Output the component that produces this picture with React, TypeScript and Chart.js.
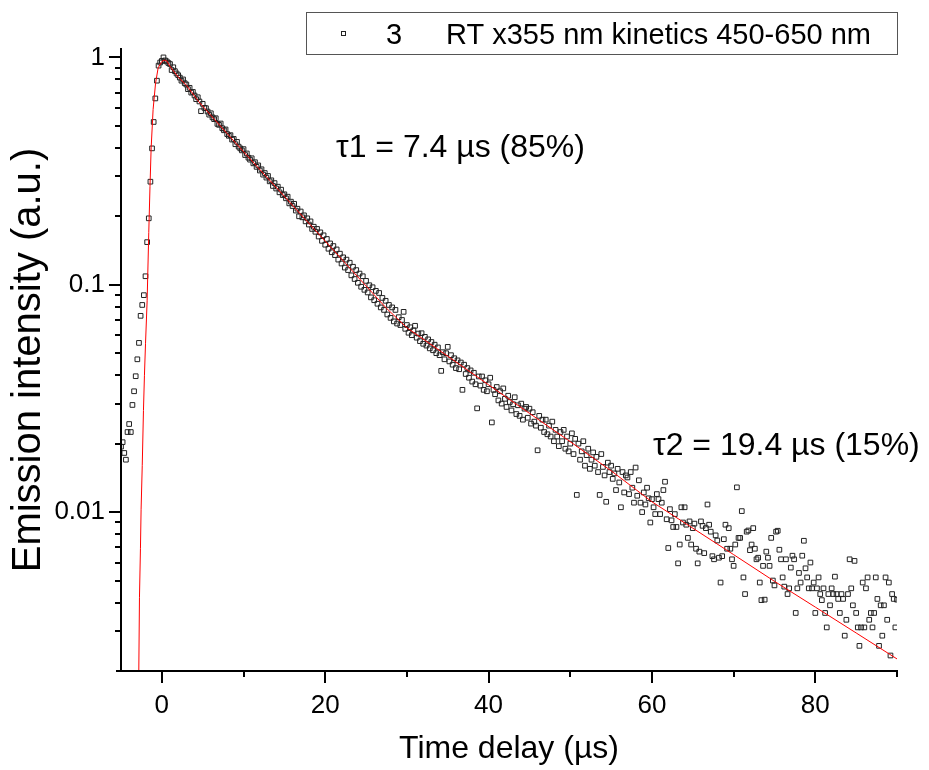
import React, { useEffect, useRef } from "react";
import { Chart, registerables } from "chart.js";

Chart.register(...registerables);

// Measured emission intensity, sampled every 0.2 µs from -5 µs to 90 µs
const TIME_START = -5;
const TIME_STEP = 0.2;
const intensity: number[] = [
  0.0194, 0.0203, 0.0182, 0.0170, 0.0225, 0.0244, 0.0225, 0.0296, 0.0340, 0.0396,
  0.0470, 0.0555, 0.0730, 0.0815, 0.0900, 0.109, 0.154, 0.196, 0.284, 0.398,
  0.520, 0.660, 0.790, 0.920, 0.950, 0.965, 1.000, 0.970, 0.960, 0.945,
  0.935, 0.880, 0.905, 0.870, 0.850, 0.835, 0.815, 0.790, 0.800, 0.770,
  0.760, 0.725, 0.735, 0.700, 0.705, 0.680, 0.655, 0.668, 0.640, 0.580,
  0.625, 0.600, 0.598, 0.578, 0.560, 0.568, 0.545, 0.535, 0.540, 0.510,
  0.505, 0.512, 0.488, 0.478, 0.482, 0.460, 0.452, 0.455, 0.435, 0.438,
  0.415, 0.425, 0.405, 0.398, 0.390, 0.395, 0.372, 0.378, 0.362, 0.355,
  0.360, 0.342, 0.346, 0.330, 0.335, 0.318, 0.322, 0.305, 0.310, 0.296,
  0.301, 0.285, 0.288, 0.272, 0.280, 0.265, 0.270, 0.255, 0.262, 0.248,
  0.250, 0.240, 0.244, 0.228, 0.232, 0.222, 0.227, 0.212, 0.216, 0.200,
  0.210, 0.198, 0.202, 0.190, 0.196, 0.184, 0.190, 0.176, 0.180, 0.171,
  0.176, 0.163, 0.170, 0.156, 0.165, 0.150, 0.159, 0.144, 0.152, 0.139,
  0.148, 0.135, 0.143, 0.129, 0.137, 0.124, 0.132, 0.119, 0.129, 0.116,
  0.125, 0.110, 0.120, 0.106, 0.116, 0.102, 0.112, 0.098, 0.109, 0.095,
  0.104, 0.0925, 0.0995, 0.0880, 0.0975, 0.0855, 0.0940, 0.0825, 0.0920, 0.0795,
  0.0875, 0.0775, 0.0850, 0.0740, 0.0815, 0.0715, 0.0795, 0.0690, 0.0775, 0.0675,
  0.0720, 0.0665, 0.0700, 0.0760, 0.0640, 0.0665, 0.0615, 0.0650, 0.0600, 0.0630,
  0.0660, 0.0585, 0.0610, 0.0565, 0.0612, 0.0550, 0.0590, 0.0540, 0.0575, 0.0525,
  0.0560, 0.0515, 0.0545, 0.0500, 0.0530, 0.0490, 0.0418, 0.0505, 0.0470, 0.0500,
  0.0533, 0.0460, 0.0490, 0.0445, 0.0475, 0.0430, 0.0465, 0.0425, 0.0455, 0.0345,
  0.0445, 0.0405, 0.0430, 0.0390, 0.0420, 0.0375, 0.0410, 0.0365, 0.0286, 0.0395,
  0.0360, 0.0395, 0.0345, 0.0380, 0.0340, 0.0365, 0.0390, 0.0248, 0.0345, 0.0330,
  0.0355, 0.0310, 0.0340, 0.0300, 0.0350, 0.0315, 0.0290, 0.0325, 0.0305, 0.0280,
  0.0298, 0.0320, 0.0270, 0.0295, 0.0265, 0.0300, 0.0255, 0.0285, 0.0290, 0.0260,
  0.0285, 0.0245, 0.0275, 0.0250, 0.0240, 0.0187, 0.0265, 0.0235, 0.0255, 0.0225,
  0.0255, 0.0220, 0.0240, 0.0215, 0.0250, 0.0205, 0.0230, 0.0215, 0.0195, 0.0225,
  0.0205, 0.0230, 0.0190, 0.0215, 0.0185, 0.0200, 0.0222, 0.0180, 0.0210, 0.0119,
  0.0200, 0.0170, 0.0185, 0.0205, 0.0160, 0.0178, 0.0190, 0.0155, 0.0170, 0.0183,
  0.0160, 0.0175, 0.0150, 0.0119, 0.0180, 0.0158, 0.0145, 0.0111, 0.0165, 0.0150,
  0.0160, 0.0140, 0.0148, 0.0125, 0.0155, 0.0135, 0.0105, 0.0150, 0.0122, 0.0145,
  0.0142, 0.0120, 0.0150, 0.0128, 0.0110, 0.0157, 0.0118, 0.0138, 0.0110, 0.0100,
  0.0122, 0.0108, 0.0128, 0.0115, 0.0090, 0.0114, 0.0105, 0.0098, 0.0120, 0.0114,
  0.0098, 0.0110, 0.0125, 0.0136, 0.0093, 0.00695, 0.0103, 0.0092, 0.0086, 0.0098,
  0.0086, 0.00595, 0.0072, 0.0105, 0.0090, 0.0105, 0.0088, 0.0077, 0.0091, 0.0072,
  0.0085, 0.0089, 0.0069, 0.00595, 0.0067, 0.0091, 0.0087, 0.0066, 0.0085, 0.0108,
  0.0088, 0.0082, 0.0064, 0.0062, 0.0079, 0.0075, 0.0063, 0.0049, 0.0064, 0.0076,
  0.0088, 0.0069, 0.0085, 0.0069, 0.0062, 0.0058, 0.0072, 0.01285, 0.0077, 0.0077,
  0.0101, 0.00516, 0.00436, 0.0082, 0.0083, 0.0068, 0.0072, 0.0085, 0.0069, 0.0062,
  0.0063, 0.0049, 0.0041, 0.0058, 0.00412, 0.0067, 0.0063, 0.0058, 0.0077, 0.0050,
  0.00476, 0.0082, 0.00828, 0.00683, 0.0062, 0.00516, 0.0047, 0.0062, 0.00436, 0.00462,
  0.0057, 0.00643, 0.0062, 0.0036, 0.00462, 0.0054, 0.0049, 0.00643, 0.00748, 0.00566,
  0.00516, 0.00462, 0.0060, 0.00462, 0.0049, 0.0036, 0.00462, 0.00516, 0.00436, 0.0041,
  0.00462, 0.0036, 0.00311, 0.00436, 0.00389, 0.00462, 0.00436, 0.0052, 0.00436, 0.00415,
  0.0036, 0.00436, 0.00415, 0.00286, 0.00336, 0.00436, 0.0062, 0.00462, 0.00389, 0.0061,
  0.0036, 0.00311, 0.00258, 0.00311, 0.0049, 0.00311, 0.00462, 0.00516, 0.00336, 0.0036,
  0.00311, 0.0036, 0.00516, 0.00415, 0.00258, 0.00389, 0.00286, 0.00389, 0.00516, 0.00336,
  0.0049, 0.00234, 0.00436, 0.00415, 0.00311, 0.00412,
];

// Bi-exponential fit curve (red line)
const fitTime: number[] = [
  -2.86, -2.82, -2.74, -2.62, -2.54, -2.4, -2.25, -2.13, -2.0, -1.8,
  -1.6, -1.45, -1.31, -1.07, -0.77, -0.45, 0, 0.3, 0.6, 1.07,
  2, 3, 4.5, 6, 8, 10, 12.5, 15, 17.5, 20,
  22.5, 25, 27.5, 30, 35, 40, 45, 50, 55, 60,
  65, 70, 75, 80, 85, 90,
];
const fitValue: number[] = [
  0.0016, 0.002, 0.0042, 0.0069, 0.0103, 0.016, 0.028, 0.04, 0.055, 0.085,
  0.17, 0.27, 0.40, 0.59, 0.77, 0.90, 0.96, 0.972, 0.965, 0.905,
  0.82, 0.755, 0.64, 0.556, 0.462, 0.385, 0.307, 0.245, 0.195, 0.1556,
  0.124, 0.0988, 0.0788, 0.0647, 0.0485, 0.0363, 0.0272, 0.0204, 0.0152, 0.0111,
  0.0085, 0.0065, 0.00496, 0.00382, 0.00294, 0.00226,
];

const xMajorTicks: number[] = [0, 20, 40, 60, 80];
const xMinorTicks: number[] = [10, 30, 50, 70, 90];
const yMajorTicks: number[] = [0.01, 0.1, 1];
const yTickLabels: string[] = ["0.01", "0.1", "1"];
const X_MIN = -5;
const X_MAX = 90;
const Y_MIN = 0.002;
const Y_MAX = 1.1;

const xTitle = "Time delay (µs)";
const yTitle = "Emission intensity (a.u.)";
const legendNumber = "3";
const legendText = "RT x355 nm kinetics 450-650 nm";
const annotation1 = "τ1 = 7.4 µs (85%)";
const annotation2 = "τ2 = 19.4 µs (15%)";

const FONT = "'Liberation Sans', Arial, sans-serif";

export default function App() {
  const canvasRef = useRef<HTMLCanvasElement | null>(null);

  useEffect(() => {
    const canvas = canvasRef.current;
    if (!canvas) return;

    const points = intensity.map((v, i) => ({
      x: Number((TIME_START + i * TIME_STEP).toFixed(1)),
      y: v,
    }));
    const fitPoints = fitTime.map((t, i) => ({ x: t, y: fitValue[i] }));

    const decor = {
      id: "decor",
      afterDraw(chart: any) {
        const ctx = chart.ctx;
        const area = chart.chartArea;
        const xs = chart.scales.x;
        const ys = chart.scales.y;
        ctx.save();
        ctx.strokeStyle = "#000";
        ctx.lineWidth = 2;
        ctx.beginPath();
        ctx.moveTo(area.left, area.top);
        ctx.lineTo(area.left, area.bottom + 1);
        ctx.moveTo(area.left - 5, area.bottom);
        ctx.lineTo(area.right + 1, area.bottom);
        yMajorTicks.forEach((v) => {
          const p = Math.round(ys.getPixelForValue(v));
          ctx.moveTo(area.left - 12, p);
          ctx.lineTo(area.left, p);
        });
        [0.001, 0.01, 0.1].forEach((d) => {
          for (let k = 2; k <= 9; k++) {
            const v = k * d;
            if (v <= Y_MIN || v > Y_MAX) continue;
            const p = Math.round(ys.getPixelForValue(v));
            ctx.moveTo(area.left - 6, p);
            ctx.lineTo(area.left, p);
          }
        });
        xMajorTicks.forEach((v) => {
          const p = Math.round(xs.getPixelForValue(v));
          ctx.moveTo(p, area.bottom);
          ctx.lineTo(p, area.bottom + 12);
        });
        xMinorTicks.forEach((v) => {
          const p = Math.round(xs.getPixelForValue(v));
          ctx.moveTo(p, area.bottom);
          ctx.lineTo(p, area.bottom + 6);
        });
        ctx.stroke();

        // y axis title
        ctx.save();
        ctx.fillStyle = "#000";
        ctx.font = `40px ${FONT}`;
        ctx.textAlign = "center";
        ctx.textBaseline = "middle";
        ctx.translate(29, 360);
        ctx.rotate(-Math.PI / 2);
        ctx.fillText(yTitle, 0, 0);
        ctx.restore();

        // legend box
        ctx.lineWidth = 1;
        ctx.strokeStyle = "#555";
        ctx.strokeRect(306.5, 12.5, 591, 42);
        ctx.strokeStyle = "#222";
        ctx.strokeRect(341.5, 31.5, 4, 4);
        ctx.fillStyle = "#000";
        ctx.font = `29px ${FONT}`;
        ctx.textBaseline = "alphabetic";
        ctx.textAlign = "left";
        ctx.fillText(legendNumber, 386, 44);
        ctx.fillText(legendText, 446, 44);

        // annotations
        ctx.font = `32px ${FONT}`;
        ctx.fillText(annotation1, 336, 157);
        ctx.fillText(annotation2, 653, 455);
        ctx.restore();
      },
    };

    const chart = new Chart(canvas, {
      type: "scatter",
      data: {
        datasets: [
          {
            type: "line",
            label: "fit",
            data: fitPoints,
            borderColor: "#ff0000",
            borderWidth: 1,
            pointRadius: 0,
            fill: false,
            tension: 0,
          } as any,
          {
            label: legendNumber,
            data: points,
            pointStyle: "rect",
            pointRadius: 3.3,
            borderWidth: 1,
            borderColor: "#222",
            backgroundColor: "rgba(255,255,255,0)",
            showLine: false,
          },
        ],
      },
      options: {
        responsive: false,
        animation: false,
        events: [],
        layout: { padding: { left: 0, right: 32, top: 48, bottom: 0 } },
        plugins: {
          legend: { display: false },
          tooltip: { enabled: false },
          title: { display: false },
        },
        scales: {
          x: {
            type: "linear",
            min: X_MIN,
            max: X_MAX,
            grid: { display: false, drawTicks: false },
            border: { display: false },
            ticks: {
              color: "#000",
              font: { family: FONT, size: 26 },
              padding: 19,
              maxRotation: 0,
              callback: (v: any) => String(v),
            },
            afterBuildTicks: (s: any) => {
              s.ticks = xMajorTicks.map((v) => ({ value: v }));
            },
            afterFit: (s: any) => {
              s.height = 99;
            },
            title: {
              display: true,
              text: xTitle,
              color: "#000",
              font: { family: FONT, size: 32 },
              padding: { top: 0, bottom: 2 },
            },
          },
          y: {
            type: "logarithmic",
            min: Y_MIN,
            max: Y_MAX,
            grid: { display: false, drawTicks: false },
            border: { display: false },
            ticks: {
              color: "#000",
              font: { family: FONT, size: 26 },
              padding: 16,
              callback: (v: any) => {
                const i = yMajorTicks.findIndex((t) => Math.abs(t - v) < 1e-9);
                return i >= 0 ? yTickLabels[i] : "";
              },
            },
            afterBuildTicks: (s: any) => {
              s.ticks = yMajorTicks.map((v) => ({ value: v }));
            },
            afterFit: (s: any) => {
              s.width = 121;
            },
            title: { display: false },
          },
        },
      },
      plugins: [decor],
    });

    return () => {
      chart.destroy();
    };
  }, []);

  return (
    <div
      style={{
        position: "absolute",
        left: 0,
        top: 0,
        width: 929,
        height: 770,
        background: "#fff",
      }}
    >
      <canvas ref={canvasRef} width={929} height={770} style={{ width: 929, height: 770 }} />
    </div>
  );
}
